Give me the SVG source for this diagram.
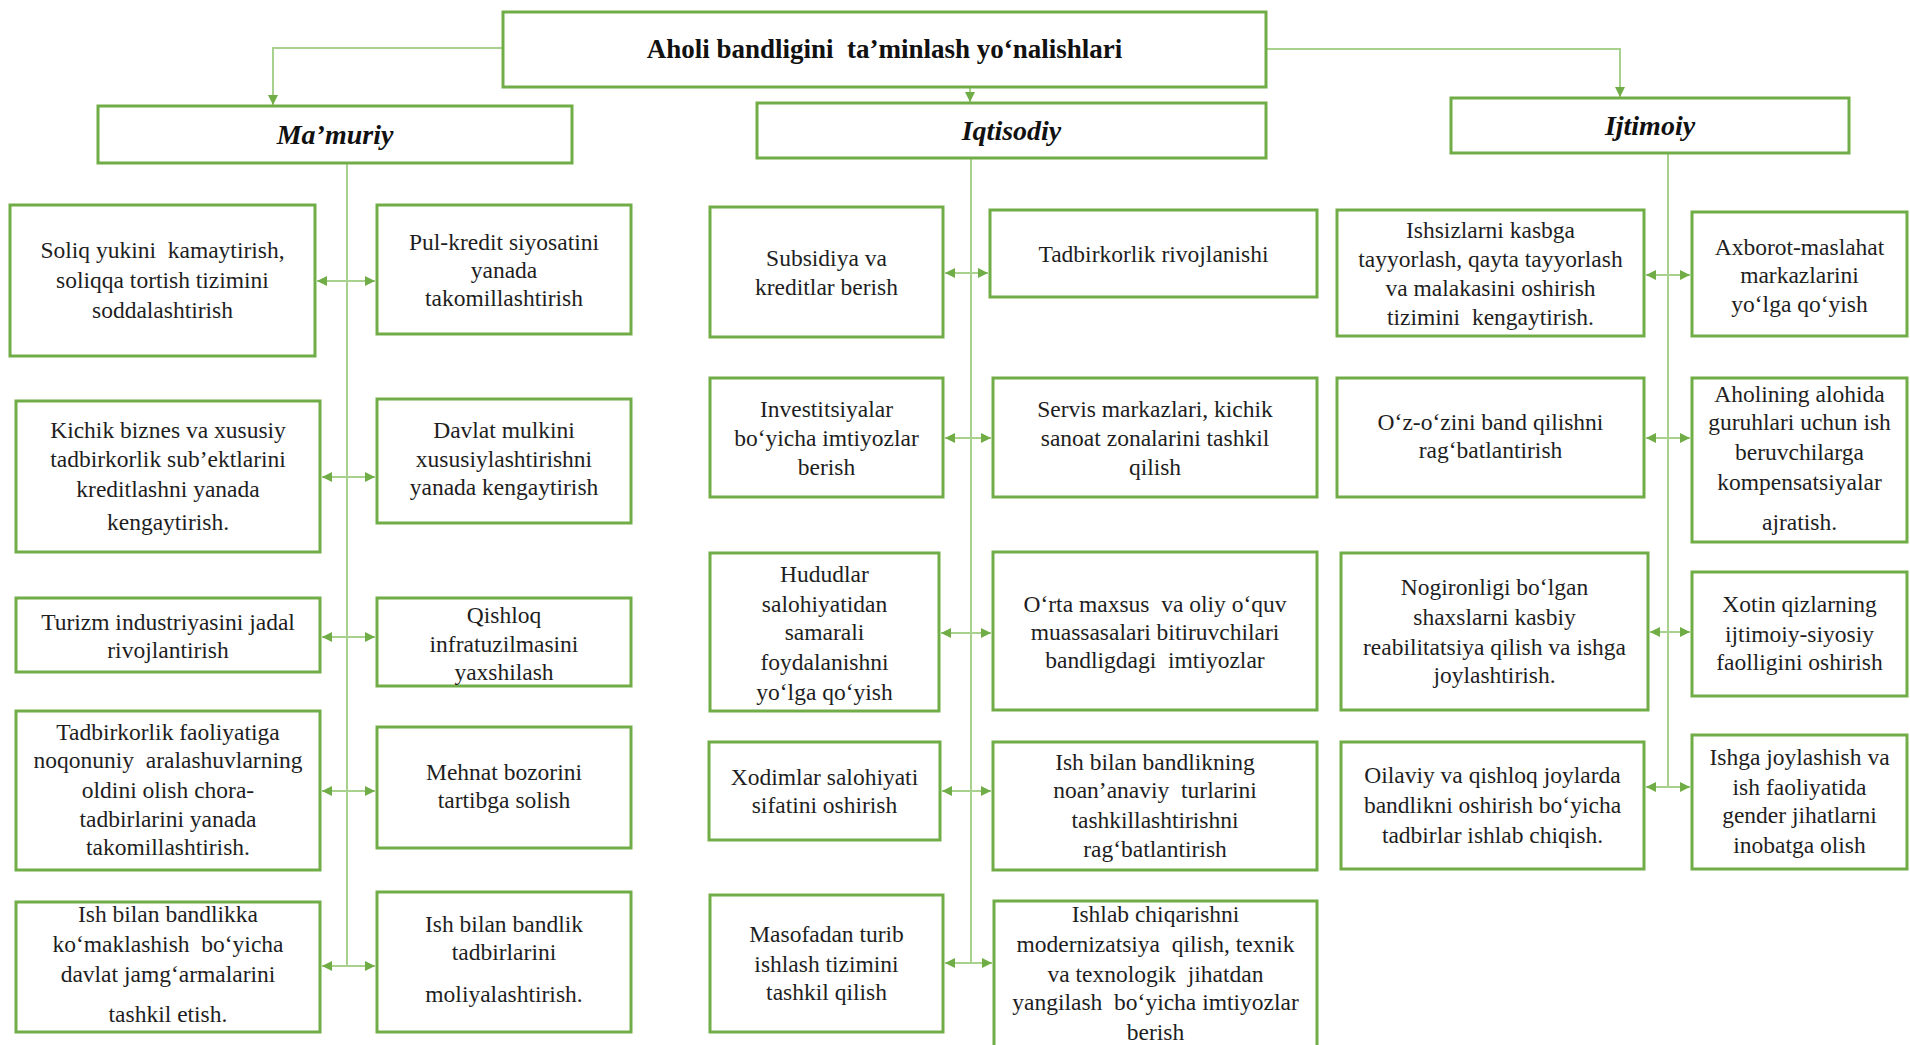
<svg xmlns="http://www.w3.org/2000/svg" width="1910" height="1045" viewBox="0 0 1910 1045">
<style>
.box{fill:#ffffff;stroke:#70AD47;stroke-width:3}
.t{font-family:"Liberation Serif","Times New Roman",serif;font-size:23.5px;fill:#1e1e1e;text-anchor:middle;white-space:pre}
.title{font-family:"Liberation Serif","Times New Roman",serif;font-size:27px;font-weight:bold;fill:#111;text-anchor:middle;white-space:pre}
.cat{font-family:"Liberation Serif","Times New Roman",serif;font-size:28px;font-weight:bold;font-style:italic;fill:#111;text-anchor:middle}
.ln{fill:none;stroke:#A9D18E;stroke-width:2}
.arr{fill:none;stroke:#A9D18E;stroke-width:2;marker-start:url(#ah);marker-end:url(#ah)}
.down{fill:none;stroke:#A9D18E;stroke-width:2;marker-end:url(#ah)}
</style>
<defs>
<marker id="ah" viewBox="0 0 10 10" refX="10" refY="5" markerWidth="10" markerHeight="10" markerUnits="userSpaceOnUse" orient="auto-start-reverse">
<path d="M0,0 L10,5 L0,10 z" fill="#70AD47"/>
</marker>
</defs>
<rect width="1910" height="1045" fill="#ffffff"/>

<g id="connectors">
<polyline class="down" points="503,48 273,48 273,105"/>
<polyline class="down" points="970,88 970,102"/>
<polyline class="down" points="1266,49 1620,49 1620,97"/>
<line class="ln" x1="347" y1="163" x2="347" y2="966"/>
<line class="ln" x1="971" y1="158" x2="971" y2="963"/>
<line class="ln" x1="1668" y1="153" x2="1668" y2="787"/>
<line class="arr" x1="317" y1="281" x2="375" y2="281"/>
<line class="arr" x1="322" y1="477" x2="375" y2="477"/>
<line class="arr" x1="322" y1="637" x2="375" y2="637"/>
<line class="arr" x1="322" y1="791" x2="375" y2="791"/>
<line class="arr" x1="322" y1="966" x2="375" y2="966"/>
<line class="arr" x1="945" y1="273" x2="988" y2="273"/>
<line class="arr" x1="945" y1="438" x2="991" y2="438"/>
<line class="arr" x1="941" y1="633" x2="991" y2="633"/>
<line class="arr" x1="942" y1="791" x2="991" y2="791"/>
<line class="arr" x1="945" y1="963" x2="992" y2="963"/>
<line class="arr" x1="1646" y1="275" x2="1690" y2="275"/>
<line class="arr" x1="1646" y1="438" x2="1690" y2="438"/>
<line class="arr" x1="1650" y1="632" x2="1690" y2="632"/>
<line class="arr" x1="1646" y1="787" x2="1690" y2="787"/>
</g>

<g id="root">
<rect class="box" x="503" y="12" width="763" height="75"/>
<text class="title" x="884.5" y="58">Aholi bandligini  ta’minlash yo‘nalishlari</text>
</g>
<g id="mamuriy">
<rect class="box" x="98" y="106" width="474" height="57"/>
<text class="cat" x="335" y="144">Ma’muriy</text>
</g>
<g id="iqtisodiy">
<rect class="box" x="757" y="103" width="509" height="55"/>
<text class="cat" x="1011.5" y="140">Iqtisodiy</text>
</g>
<g id="ijtimoiy">
<rect class="box" x="1451" y="98" width="398" height="55"/>
<text class="cat" x="1650" y="135">Ijtimoiy</text>
</g>

<g id="m1">
<rect class="box" x="10" y="205" width="305" height="151"/>
<text class="t" x="162.5" y="258">Soliq yukini  kamaytirish,</text>
<text class="t" x="162.5" y="288">soliqqa tortish tizimini</text>
<text class="t" x="162.5" y="318">soddalashtirish</text>
</g>
<g id="m2">
<rect class="box" x="377" y="205" width="254" height="129"/>
<text class="t" x="504" y="250">Pul-kredit siyosatini</text>
<text class="t" x="504" y="278">yanada</text>
<text class="t" x="504" y="306">takomillashtirish</text>
</g>
<g id="m3">
<rect class="box" x="16" y="401" width="304" height="151"/>
<text class="t" x="168" y="438">Kichik biznes va xususiy</text>
<text class="t" x="168" y="467">tadbirkorlik sub’ektlarini</text>
<text class="t" x="168" y="497">kreditlashni yanada</text>
<text class="t" x="168" y="530">kengaytirish.</text>
</g>
<g id="m4">
<rect class="box" x="377" y="399" width="254" height="124"/>
<text class="t" x="504" y="438">Davlat mulkini</text>
<text class="t" x="504" y="467">xususiylashtirishni</text>
<text class="t" x="504" y="495">yanada kengaytirish</text>
</g>
<g id="m5">
<rect class="box" x="16" y="598" width="304" height="74"/>
<text class="t" x="168" y="630">Turizm industriyasini jadal</text>
<text class="t" x="168" y="658">rivojlantirish</text>
</g>
<g id="m6">
<rect class="box" x="377" y="598" width="254" height="88"/>
<text class="t" x="504" y="623">Qishloq</text>
<text class="t" x="504" y="652">infratuzilmasini</text>
<text class="t" x="504" y="680">yaxshilash</text>
</g>
<g id="m7">
<rect class="box" x="16" y="711" width="304" height="159"/>
<text class="t" x="168" y="740">Tadbirkorlik faoliyatiga</text>
<text class="t" x="168" y="768">noqonuniy  aralashuvlarning</text>
<text class="t" x="168" y="798">oldini olish chora-</text>
<text class="t" x="168" y="827">tadbirlarini yanada</text>
<text class="t" x="168" y="855">takomillashtirish.</text>
</g>
<g id="m8">
<rect class="box" x="377" y="727" width="254" height="121"/>
<text class="t" x="504" y="780">Mehnat bozorini</text>
<text class="t" x="504" y="808">tartibga solish</text>
</g>
<g id="m9">
<rect class="box" x="16" y="902" width="304" height="130"/>
<text class="t" x="168" y="922">Ish bilan bandlikka</text>
<text class="t" x="168" y="952">ko‘maklashish  bo‘yicha</text>
<text class="t" x="168" y="982">davlat jamg‘armalarini</text>
<text class="t" x="168" y="1022">tashkil etish.</text>
</g>
<g id="m10">
<rect class="box" x="377" y="892" width="254" height="140"/>
<text class="t" x="504" y="932">Ish bilan bandlik</text>
<text class="t" x="504" y="960">tadbirlarini</text>
<text class="t" x="504" y="1002">moliyalashtirish.</text>
</g>

<g id="q1">
<rect class="box" x="710" y="207" width="233" height="130"/>
<text class="t" x="826.5" y="266">Subsidiya va</text>
<text class="t" x="826.5" y="295">kreditlar berish</text>
</g>
<g id="q2">
<rect class="box" x="990" y="210" width="327" height="87"/>
<text class="t" x="1153.5" y="262">Tadbirkorlik rivojlanishi</text>
</g>
<g id="q3">
<rect class="box" x="710" y="378" width="233" height="119"/>
<text class="t" x="826.5" y="417">Investitsiyalar</text>
<text class="t" x="826.5" y="446">bo‘yicha imtiyozlar</text>
<text class="t" x="826.5" y="475">berish</text>
</g>
<g id="q4">
<rect class="box" x="993" y="378" width="324" height="119"/>
<text class="t" x="1155" y="417">Servis markazlari, kichik</text>
<text class="t" x="1155" y="446">sanoat zonalarini tashkil</text>
<text class="t" x="1155" y="475">qilish</text>
</g>
<g id="q5">
<rect class="box" x="710" y="553" width="229" height="158"/>
<text class="t" x="824.5" y="582">Hududlar</text>
<text class="t" x="824.5" y="612">salohiyatidan</text>
<text class="t" x="824.5" y="640">samarali</text>
<text class="t" x="824.5" y="670">foydalanishni</text>
<text class="t" x="824.5" y="700">yo‘lga qo‘yish</text>
</g>
<g id="q6">
<rect class="box" x="993" y="552" width="324" height="158"/>
<text class="t" x="1155" y="612">O‘rta maxsus  va oliy o‘quv</text>
<text class="t" x="1155" y="640">muassasalari bitiruvchilari</text>
<text class="t" x="1155" y="668">bandligdagi  imtiyozlar</text>
</g>
<g id="q7">
<rect class="box" x="709" y="742" width="231" height="98"/>
<text class="t" x="824.5" y="785">Xodimlar salohiyati</text>
<text class="t" x="824.5" y="813">sifatini oshirish</text>
</g>
<g id="q8">
<rect class="box" x="993" y="742" width="324" height="128"/>
<text class="t" x="1155" y="770">Ish bilan bandlikning</text>
<text class="t" x="1155" y="798">noan’anaviy  turlarini</text>
<text class="t" x="1155" y="828">tashkillashtirishni</text>
<text class="t" x="1155" y="857">rag‘batlantirish</text>
</g>
<g id="q9">
<rect class="box" x="710" y="895" width="233" height="137"/>
<text class="t" x="826.5" y="942">Masofadan turib</text>
<text class="t" x="826.5" y="972">ishlash tizimini</text>
<text class="t" x="826.5" y="1000">tashkil qilish</text>
</g>
<g id="q10">
<rect class="box" x="994" y="901" width="323" height="152"/>
<text class="t" x="1155.5" y="922">Ishlab chiqarishni</text>
<text class="t" x="1155.5" y="952">modernizatsiya  qilish, texnik</text>
<text class="t" x="1155.5" y="982">va texnologik  jihatdan</text>
<text class="t" x="1155.5" y="1010">yangilash  bo‘yicha imtiyozlar</text>
<text class="t" x="1155.5" y="1040">berish</text>
</g>

<g id="j1">
<rect class="box" x="1337" y="210" width="307" height="126"/>
<text class="t" x="1490.5" y="238">Ishsizlarni kasbga</text>
<text class="t" x="1490.5" y="267">tayyorlash, qayta tayyorlash</text>
<text class="t" x="1490.5" y="296">va malakasini oshirish</text>
<text class="t" x="1490.5" y="325">tizimini  kengaytirish.</text>
</g>
<g id="j2">
<rect class="box" x="1692" y="212" width="215" height="124"/>
<text class="t" x="1799.5" y="255">Axborot-maslahat</text>
<text class="t" x="1799.5" y="283">markazlarini</text>
<text class="t" x="1799.5" y="312">yo‘lga qo‘yish</text>
</g>
<g id="j3">
<rect class="box" x="1337" y="378" width="307" height="119"/>
<text class="t" x="1490.5" y="430">O‘z-o‘zini band qilishni</text>
<text class="t" x="1490.5" y="458">rag‘batlantirish</text>
</g>
<g id="j4">
<rect class="box" x="1692" y="378" width="215" height="164"/>
<text class="t" x="1799.5" y="402">Aholining alohida</text>
<text class="t" x="1799.5" y="430">guruhlari uchun ish</text>
<text class="t" x="1799.5" y="460">beruvchilarga</text>
<text class="t" x="1799.5" y="490">kompensatsiyalar</text>
<text class="t" x="1799.5" y="530">ajratish.</text>
</g>
<g id="j5">
<rect class="box" x="1341" y="553" width="307" height="157"/>
<text class="t" x="1494.5" y="595">Nogironligi bo‘lgan</text>
<text class="t" x="1494.5" y="625">shaxslarni kasbiy</text>
<text class="t" x="1494.5" y="655">reabilitatsiya qilish va ishga</text>
<text class="t" x="1494.5" y="683">joylashtirish.</text>
</g>
<g id="j6">
<rect class="box" x="1692" y="572" width="215" height="124"/>
<text class="t" x="1799.5" y="612">Xotin qizlarning</text>
<text class="t" x="1799.5" y="642">ijtimoiy-siyosiy</text>
<text class="t" x="1799.5" y="670">faolligini oshirish</text>
</g>
<g id="j7">
<rect class="box" x="1341" y="742" width="303" height="127"/>
<text class="t" x="1492.5" y="783">Oilaviy va qishloq joylarda</text>
<text class="t" x="1492.5" y="813">bandlikni oshirish bo‘yicha</text>
<text class="t" x="1492.5" y="843">tadbirlar ishlab chiqish.</text>
</g>
<g id="j8">
<rect class="box" x="1692" y="735" width="215" height="134"/>
<text class="t" x="1799.5" y="765">Ishga joylashish va</text>
<text class="t" x="1799.5" y="795">ish faoliyatida</text>
<text class="t" x="1799.5" y="823">gender jihatlarni</text>
<text class="t" x="1799.5" y="853">inobatga olish</text>
</g>
</svg>
